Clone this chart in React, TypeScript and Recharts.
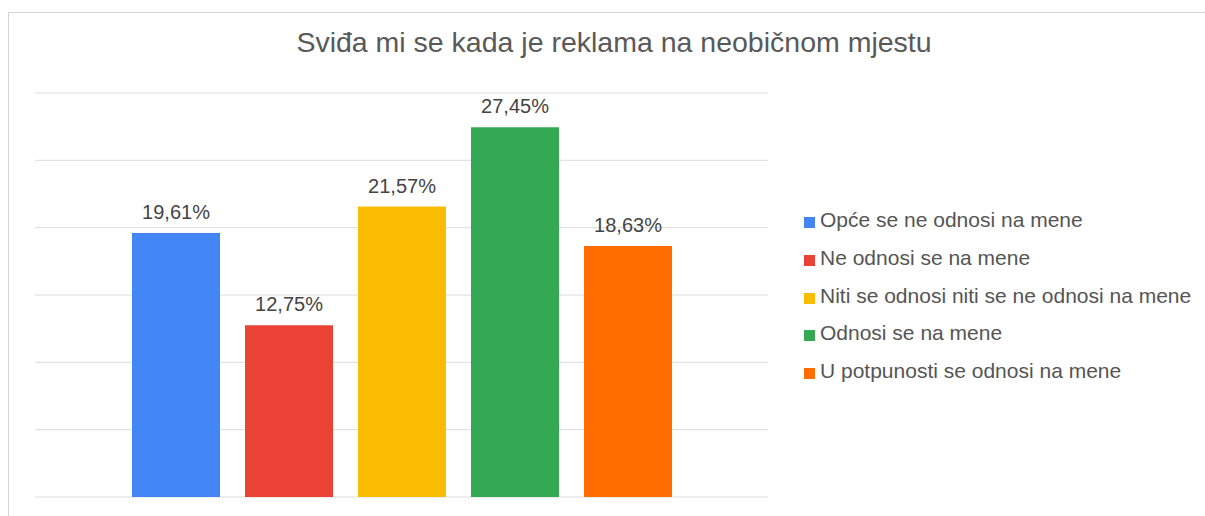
import React from "react";
import { BarChart, Bar, XAxis, YAxis, CartesianGrid, LabelList } from "recharts";

const chartTitle = "Sviđa mi se kada je reklama na neobičnom mjestu";
const seriesNames = [
  "Opće se ne odnosi na mene",
  "Ne odnosi se na mene",
  "Niti se odnosi niti se ne odnosi na mene",
  "Odnosi se na mene",
  "U potpunosti se odnosi na mene",
];
const seriesValues = [19.61, 12.75, 21.57, 27.45, 18.63];
const seriesColors = ["#4285F4", "#EA4335", "#FBBC04", "#34A853", "#FF6D01"];
const yTicks = [0, 5, 10, 15, 20, 25, 30];

const FONT = '"Liberation Sans", Arial, sans-serif';

const data = [
  seriesValues.reduce<Record<string, number | string>>(
    (row, v, i) => {
      row["s" + i] = v;
      return row;
    },
    { cat: "" }
  ),
];

const fmt = (v: any) => String(Number(v).toFixed(2)).replace(".", ",") + "%";

export default function App() {
  return (
    <div style={{ position: "fixed", left: 0, top: 0, width: 1205, height: 516, background: "#fff", overflow: "hidden", fontFamily: FONT }}>
      <div
        style={{
          position: "absolute",
          left: 8,
          top: 12,
          width: 1197,
          height: 504,
          borderTop: "1px solid #d4d4d4",
          borderLeft: "1px solid #d4d4d4",
        }}
      />
      <div
        style={{
          position: "absolute",
          left: 0,
          top: 26,
          width: 1228,
          textAlign: "center",
          fontSize: 28.5,
          color: "#595959",
        }}
      >
        {chartTitle}
      </div>
      <div style={{ position: "absolute", left: 0, top: 0 }}>
        <BarChart width={1205} height={516} data={data} margin={{ top: 93, right: 437, bottom: 19, left: 35 }} barGap={25}>
          <CartesianGrid vertical={false} stroke="#dcdcdc" />
          <XAxis dataKey="cat" hide />
          <YAxis hide domain={[0, 30]} ticks={yTicks} type="number" />
          {seriesNames.map((name, i) => (
            <Bar key={name} dataKey={"s" + i} name={name} fill={seriesColors[i]} barSize={88} isAnimationActive={false}>
              <LabelList
                dataKey={"s" + i}
                position="top"
                offset={14}
                formatter={fmt}
                style={{ fontSize: 20, fill: "#444", fontFamily: FONT }}
              />
            </Bar>
          ))}
        </BarChart>
      </div>
      <div style={{ position: "absolute", left: 804, top: 201 }}>
        {seriesNames.map((name, i) => (
          <div key={name} style={{ position: "relative", height: 37.75, lineHeight: "37.75px", fontSize: 21, color: "#555", whiteSpace: "nowrap" }}>
            <span style={{ position: "absolute", left: 0, top: 16, width: 11, height: 11, background: seriesColors[i] }} />
            <span style={{ position: "absolute", left: 16, top: 0 }}>{name}</span>
          </div>
        ))}
      </div>
    </div>
  );
}
